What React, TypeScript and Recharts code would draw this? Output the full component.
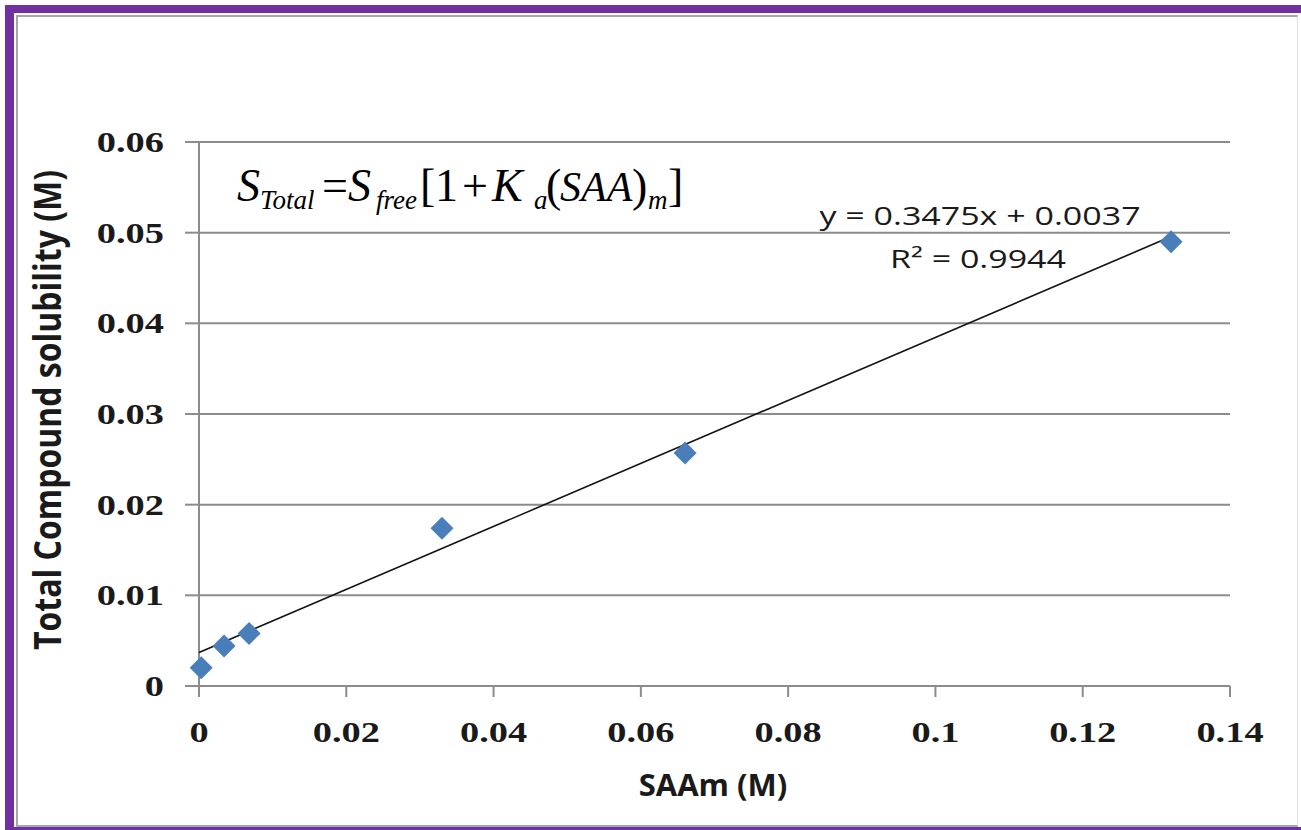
import React from 'react';
import { ScatterChart, Scatter, XAxis, YAxis, CartesianGrid, Customized } from 'recharts';

// SAAm concentration (M) vs total compound solubility (M)
const saam = [0.0003, 0.0034, 0.0068, 0.033, 0.066, 0.132];
const solubility = [0.002, 0.0044, 0.0058, 0.0174, 0.0257, 0.049];

// linear trendline as reported on the chart
const slope = 0.3475;
const intercept = 0.0037;
const trendX = [0, 0.132];

const xTicks = [0, 0.02, 0.04, 0.06, 0.08, 0.1, 0.12, 0.14];
const yTicks = [0, 0.01, 0.02, 0.03, 0.04, 0.05, 0.06];

const points = saam.map((x, i) => ({ x, y: solubility[i] }));
const trend = trendX.map((x) => ({ x, y: slope * x + intercept }));

const PURPLE = '#7030a0';
const BLUE = '#4a7ebb';
const GRID = '#8c8c8c';
const serif = '"Liberation Serif", "Times New Roman", serif';
const sans = '"Open Sans", "DejaVu Sans", sans-serif';

const Diamond = (props: any) => {
  const { cx, cy } = props;
  const r = 11.5;
  return (
    <polygon
      points={`${cx},${cy - r} ${cx + r},${cy} ${cx},${cy + r} ${cx - r},${cy}`}
      fill={BLUE}
    />
  );
};

const YTick = (props: any) => {
  const { x, y, payload } = props;
  return (
    <g transform={`translate(${x},${y + 10}) scale(1.28,1)`}>
      <text textAnchor="end" fontFamily={serif} fontWeight="bold" fontSize={30} fill="#1a1a1a">
        {String(payload.value)}
      </text>
    </g>
  );
};

const XTick = (props: any) => {
  const { x, y, payload } = props;
  return (
    <g transform={`translate(${x},${y + 45}) scale(1.28,1)`}>
      <text textAnchor="middle" fontFamily={serif} fontWeight="bold" fontSize={30} fill="#1a1a1a">
        {String(payload.value)}
      </text>
    </g>
  );
};

const Annotations = () => (
  <g>
    {/* equation */}
    <g fontFamily={serif} fontSize={46} fill="#000">
      <text x={237} y={201} fontStyle="italic">S</text>
      <text x={260} y={209} fontSize={27} fontStyle="italic">Total</text>
      <text x={322} y={201}>=</text>
      <text x={348} y={201} fontStyle="italic">S</text>
      <text x={376} y={209} fontSize={27} fontStyle="italic">free</text>
      <text x={420} y={201}>[</text>
      <text x={435} y={201}>1</text>
      <text x={462} y={201}>+</text>
      <text x={492} y={201} fontStyle="italic">K</text>
      <text x={534} y={209} fontSize={27} fontStyle="italic">a</text>
      <text x={546} y={201}>(</text>
      <text x={560} y={201} fontSize={42} fontStyle="italic">SAA</text>
      <text x={632} y={201}>)</text>
      <text x={648} y={209} fontSize={27} fontStyle="italic">m</text>
      <text x={668} y={201}>]</text>
    </g>
    {/* trendline label */}
    <g transform="translate(980,225) scale(1.36,1)">
      <text textAnchor="middle" fontFamily={sans} fontSize={25} fill="#1a1a1a">y = 0.3475x + 0.0037</text>
    </g>
    <g transform="translate(978,268) scale(1.36,1)">
      <text textAnchor="middle" fontFamily={sans} fontSize={25} fill="#1a1a1a">R² = 0.9944</text>
    </g>
    {/* axis titles */}
    <text x={713} y={796} textAnchor="middle" fontFamily={sans} fontWeight="bold" fontSize={31} fill="#1a1a1a">
      SAAm (M)
    </text>
    <g transform="translate(61,410) scale(1.15,1) rotate(-90)">
      <text x={0} y={0} textAnchor="middle" fontFamily={sans} fontWeight="bold" fontSize={32} fill="#1a1a1a">
        Total Compound solubility (M)
      </text>
    </g>
  </g>
);

export default function App() {
  return (
    <div style={{ position: 'absolute', left: 0, top: 0, width: 1301, height: 830, background: '#fff', overflow: 'hidden' }}>
      <div
        style={{
          position: 'absolute', left: 5, top: 5, width: 1296, height: 825, boxSizing: 'border-box',
          borderTop: `8px solid ${PURPLE}`, borderLeft: `9px solid ${PURPLE}`, borderBottom: `3px solid ${PURPLE}`,
        }}
      />
      <div
        style={{
          position: 'absolute', left: 16, top: 15, width: 1282, height: 812, boxSizing: 'border-box',
          borderTop: '2px solid #a6a6a6', borderLeft: '2px solid #a6a6a6', borderBottom: '2px solid #a6a6a6',
          borderRight: '1px solid #e0e0e0',
        }}
      />
      <div style={{ position: 'absolute', left: 0, top: 0 }}>
        <ScatterChart width={1301} height={830} margin={{ top: 142, right: 71, left: 0, bottom: 0 }}>
          <CartesianGrid vertical={false} stroke={GRID} strokeWidth={2} />
          <XAxis
            type="number"
            dataKey="x"
            domain={[0, 0.14]}
            ticks={xTicks}
            height={144}
            tickSize={11}
            tickMargin={0}
            axisLine={{ stroke: GRID, strokeWidth: 2 }}
            tickLine={{ stroke: GRID, strokeWidth: 2 }}
            tick={<XTick />}
          />
          <YAxis
            type="number"
            dataKey="y"
            domain={[0, 0.06]}
            ticks={yTicks}
            width={199}
            tickSize={14}
            tickMargin={21}
            axisLine={{ stroke: GRID, strokeWidth: 2 }}
            tickLine={{ stroke: GRID, strokeWidth: 2 }}
            tick={<YTick />}
          />
          <Scatter
            data={trend}
            line={{ stroke: '#111', strokeWidth: 1.6 }}
            shape={() => null}
            isAnimationActive={false}
          />
          <Scatter data={points} shape={<Diamond />} isAnimationActive={false} />
          <Customized component={Annotations} />
        </ScatterChart>
      </div>
    </div>
  );
}
